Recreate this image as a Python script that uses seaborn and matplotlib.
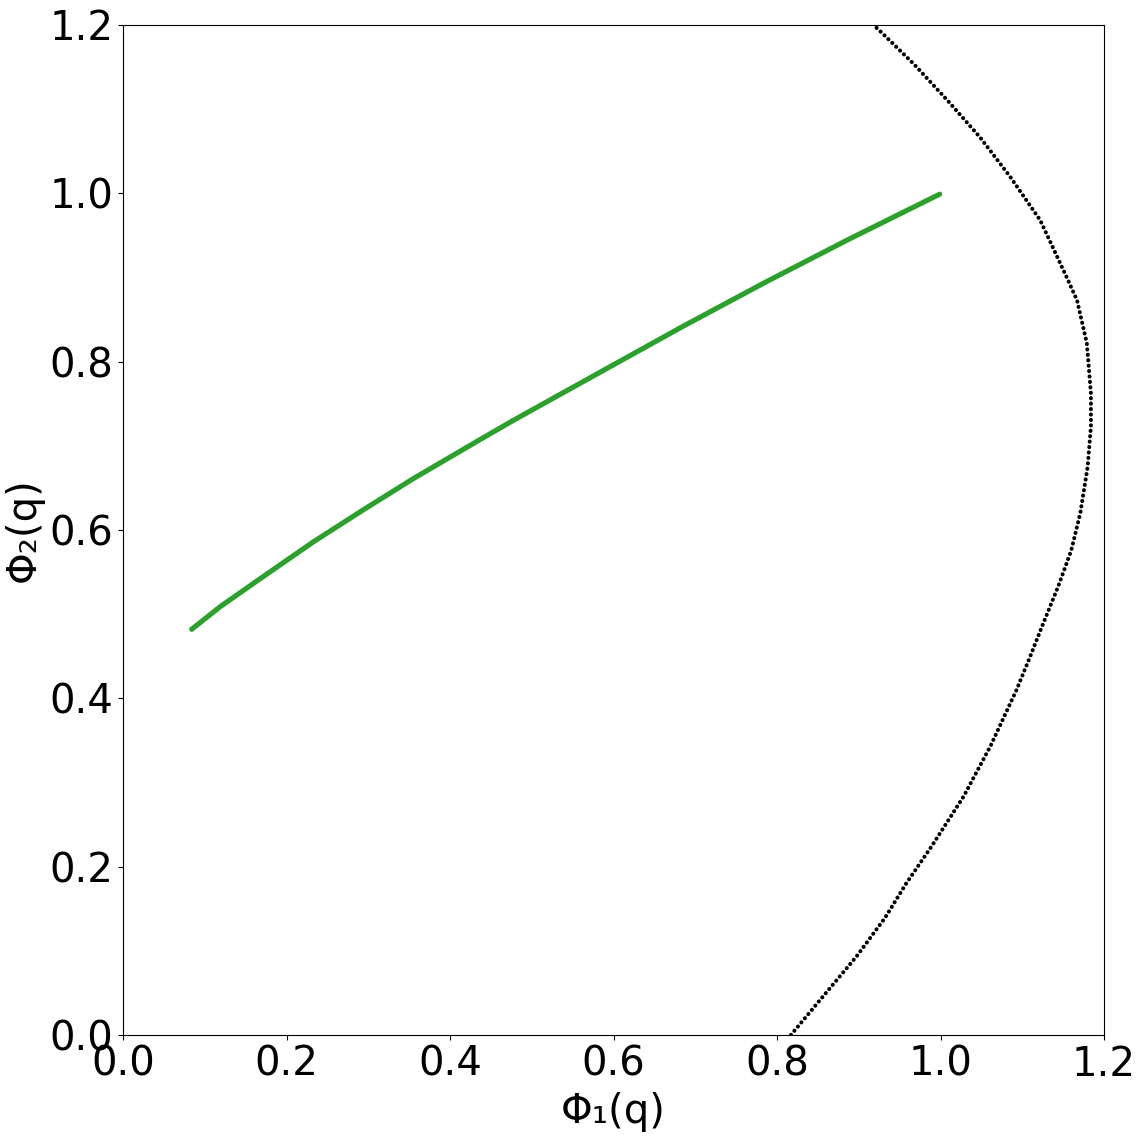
import numpy as np
import pandas as pd
import matplotlib
matplotlib.use('Agg')
import matplotlib.pyplot as plt
import seaborn as sns

# green curve: Φ1(q), Φ2(q)
green_phi1 = [0.084, 0.119, 0.172, 0.233, 0.294, 0.355, 0.436, 0.477, 0.579,
              0.685, 0.787, 0.889, 0.999]
green_phi2 = [0.482, 0.509, 0.545, 0.586, 0.624, 0.661, 0.707, 0.730, 0.785,
              0.842, 0.895, 0.946, 0.999]

# black dotted curve, from bottom edge to top edge
black_phi1 = [0.817, 0.853, 0.897, 0.932, 0.958, 0.989, 1.028, 1.061, 1.093, 1.109,
              1.124, 1.144, 1.160, 1.171, 1.180, 1.184, 1.184, 1.179, 1.167, 1.154,
              1.122, 1.085, 1.048, 1.008, 0.967, 0.928, 0.918]
black_phi2 = [0.000, 0.042, 0.093, 0.139, 0.180, 0.224, 0.283, 0.343, 0.410, 0.448,
              0.485, 0.533, 0.576, 0.620, 0.675, 0.723, 0.762, 0.822, 0.873, 0.901,
              0.968, 1.020, 1.067, 1.111, 1.154, 1.191, 1.200]

x_ticks = [0.0, 0.2, 0.4, 0.6, 0.8, 1.0, 1.2]
y_ticks = [0.0, 0.2, 0.4, 0.6, 0.8, 1.0, 1.2]

plt.rcParams['font.family'] = ['DejaVu Sans']
plt.rcParams['font.size'] = 29

green_df = pd.DataFrame({'phi1': green_phi1, 'phi2': green_phi2})
black_df = pd.DataFrame({'phi1': black_phi1, 'phi2': black_phi2})

fig = plt.figure(figsize=(11.4, 11.4), dpi=100)
ax = fig.add_axes([123 / 1140, 1 - 1035 / 1140, 981 / 1140, 1010 / 1140])

sns.lineplot(data=black_df, x='phi1', y='phi2', sort=False, estimator=None,
             color='black', linewidth=2.9, linestyle=(0, (0.05, 1.3)),
             dash_capstyle='round', dash_joinstyle='round', ax=ax)
sns.lineplot(data=green_df, x='phi1', y='phi2', sort=False, estimator=None,
             color='#2ca02c', linewidth=3.7, solid_capstyle='round',
             solid_joinstyle='round', ax=ax)

ax.set_xlim(0, 1.2)
ax.set_ylim(0, 1.2)
ax.set_xticks(x_ticks)
ax.set_yticks(y_ticks)
ax.set_xticklabels([f'{t:.1f}' for t in x_ticks])
ax.set_yticklabels([f'{t:.1f}' for t in y_ticks])
ax.set_xlabel('Φ₁(q)', labelpad=5)
ax.set_ylabel('Φ₂(q)', labelpad=4)

fig.savefig('out.png', dpi=100)
plt.close()
